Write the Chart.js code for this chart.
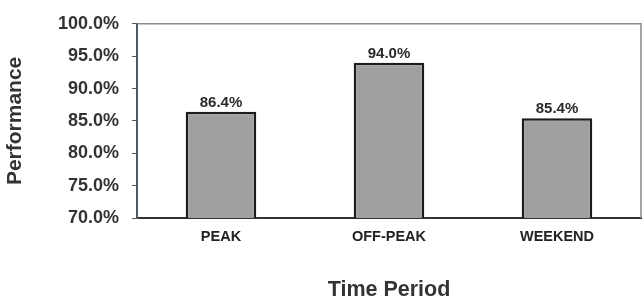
<!DOCTYPE html>
<html>
<head>
<meta charset="utf-8">
<script src="https://cdn.jsdelivr.net/npm/chart.js@4/dist/chart.umd.min.js"></script>
<style>
html,body{margin:0;padding:0;background:#fff;}
#wrap{width:644px;height:304px;position:relative;}
</style>
</head>
<body>
<div id="wrap"><canvas id="c" width="644" height="304"></canvas></div>
<script>
const categories = ["PEAK", "OFF-PEAK", "WEEKEND"];
const performance = [86.4, 94.0, 85.4];
const yMin = 70, yMax = 100, yStep = 5;
const yTitle = "Performance";
const xTitle = "Time Period";

const FONT = "'Liberation Sans', Arial, Helvetica, sans-serif";

const framePlugin = {
  id: 'frame',
  beforeDatasetsDraw(chart) {
    const {ctx, chartArea: a} = chart;
    ctx.save();
    ctx.strokeStyle = '#8a8a8a';
    ctx.lineWidth = 1.5;
    ctx.beginPath();
    ctx.moveTo(a.left, a.top);
    ctx.lineTo(a.right, a.top);
    ctx.lineTo(a.right, a.bottom);
    ctx.stroke();
    ctx.restore();
  },
  afterDatasetsDraw(chart) {
    const {ctx} = chart;
    const meta = chart.getDatasetMeta(0);
    ctx.save();
    ctx.font = "bold 15px " + FONT;
    ctx.fillStyle = '#2a2a2a';
    ctx.textAlign = 'center';
    ctx.textBaseline = 'alphabetic';
    meta.data.forEach((bar, i) => {
      const v = chart.data.datasets[0].data[i];
      ctx.fillText(v.toFixed(1) + '%', bar.x, bar.y - 5);
    });
    ctx.restore();
  }
};

new Chart(document.getElementById('c'), {
  type: 'bar',
  data: {
    labels: categories,
    datasets: [{
      data: performance,
      backgroundColor: '#a0a0a0',
      borderColor: '#1c1c1c',
      borderWidth: 2.5,
      borderSkipped: false,
      categoryPercentage: 1,
      barPercentage: 0.42
    }]
  },
  options: {
    responsive: false,
    animation: false,
    devicePixelRatio: 1,
    layout: { padding: { top: 19, right: 3, left: 0, bottom: 0 } },
    plugins: { legend: { display: false }, tooltip: { enabled: false } },
    scales: {
      x: {
        grid: { drawOnChartArea: false, drawTicks: false },
        border: { display: true, color: '#333', width: 2 },
        ticks: { color: '#222', font: { family: FONT, size: 14.5, weight: 'bold' }, padding: 10, maxRotation: 0 },
        title: { display: true, text: xTitle, color: '#333', font: { family: FONT, size: 21.5, weight: 'bold', lineHeight: 1.2 }, padding: { top: 0, bottom: 1 } },
        afterFit(s) { s.height = 86; }
      },
      y: {
        min: yMin, max: yMax,
        grid: { drawOnChartArea: false, drawTicks: true, tickLength: 5, color: '#555' },
        border: { display: true, color: '#4f5a63', width: 2 },
        ticks: { stepSize: yStep, color: '#333', font: { family: FONT, size: 18, weight: 'bold' }, padding: 13,
          callback: v => v.toFixed(1) + '%' },
        title: { display: true, text: yTitle, color: '#333', font: { family: FONT, size: 21, weight: 'bold', lineHeight: 1.2 }, padding: { top: 3, bottom: 3 } },
        afterFit(s) { s.width = 137; }
      }
    }
  },
  plugins: [framePlugin]
});
</script>
</body>
</html>
